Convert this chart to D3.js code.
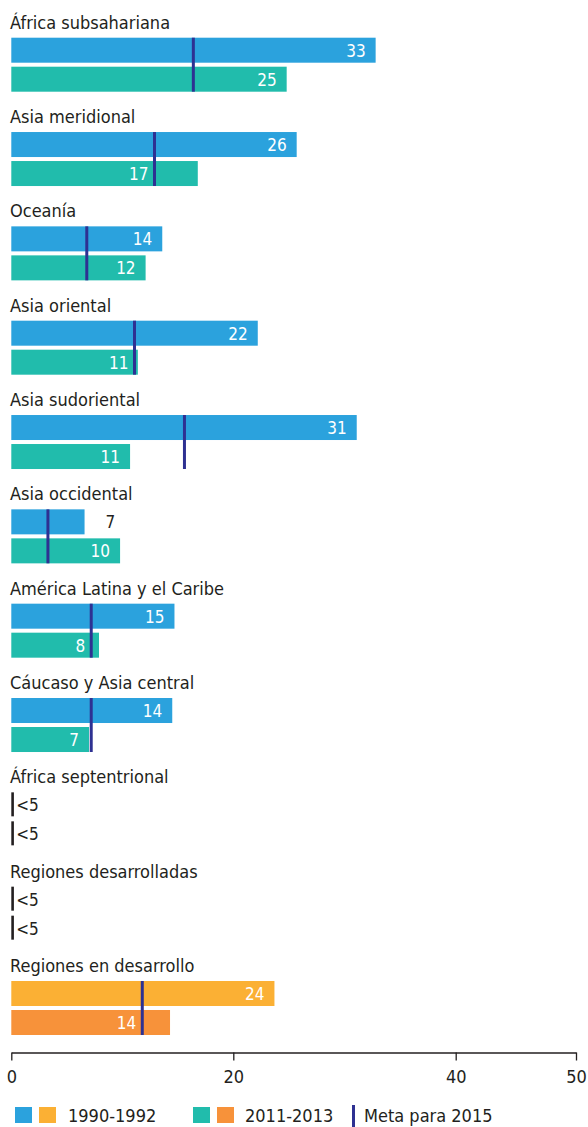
<!DOCTYPE html>
<html>
<head>
<meta charset="utf-8">
<script src="https://cdn.jsdelivr.net/npm/d3@7"></script>
<style>
  html, body { margin: 0; padding: 0; background: #fff; }
  svg { display: block; }
  text { font-family: "DejaVu Sans Condensed", "Liberation Sans Narrow", sans-serif; fill: #231f20; }
</style>
</head>
<body>
<svg id="chart" width="588" height="1127"></svg>
<script>
// ---- data ----
const regions = [
  "África subsahariana", "Asia meridional", "Oceanía", "Asia oriental",
  "Asia sudoriental", "Asia occidental", "América Latina y el Caribe",
  "Cáucaso y Asia central", "África septentrional", "Regiones desarrolladas",
  "Regiones en desarrollo"
];
const values1990 = [32.8, 25.7, 13.6, 22.2, 31.1, 6.6, 14.7, 14.5, null, null, 23.7];
const values2011 = [24.8, 16.8, 12.1, 11.4, 10.7, 9.8, 7.9, 7.0, null, null, 14.3];
const labels1990 = ["33", "26", "14", "22", "31", "7", "15", "14", "<5", "<5", "24"];
const labels2011 = ["25", "17", "12", "11", "11", "10", "8", "7", "<5", "<5", "14"];
const meta2015  = [16.4, 12.9, 6.8, 11.1, 15.6, 3.3, 7.2, 7.2, null, null, 11.8];
const groupKind = ["region","region","region","region","region","region","region","region","region","region","total"];
const tickValues = [0, 20, 40, 50];
const legendLabels = ["1990-1992", "2011-2013", "Meta para 2015"];

// ---- styles ----
const colors = {
  region: ["#2ba2dd", "#21bcac"],
  total:  ["#fbb034", "#f7923a"],
  meta: "#2e3192",
  dark: "#231f20"
};
const fsLabel = 18, fsValue = 17, fsTick = 18, fsLegend = 18;

const svg = d3.select("#chart");

const x = d3.scaleLinear().domain([0, 20, 40, 50]).range([11.3, 233.3, 455.7, 576]);
const y = d3.scaleBand().domain(regions).range([9.7, 9.7 + 94.33 * regions.length]).paddingInner(0).paddingOuter(0);

const barH = 25;
const off1 = 28, off2 = 57;

const rows = regions.map((r, i) => ({
  region: r, i, kind: groupKind[i],
  v: [values1990[i], values2011[i]],
  lab: [labels1990[i], labels2011[i]],
  meta: meta2015[i]
}));

const g = svg.selectAll("g.group").data(rows).join("g")
  .attr("class", "group")
  .attr("transform", d => `translate(0,${y(d.region)})`);

g.append("text")
  .attr("x", 10)
  .attr("y", off1 - 9)
  .attr("font-size", fsLabel)
  .text(d => d.region);

[0, 1].forEach(k => {
  const yo = k === 0 ? off1 : off2;
  // bars
  g.filter(d => d.v[k] != null).append("rect")
    .attr("x", x(0))
    .attr("y", yo)
    .attr("width", d => x(d.v[k]) - x(0))
    .attr("height", barH)
    .attr("fill", d => colors[d.kind][k]);
  // "<5" markers
  g.filter(d => d.v[k] == null).append("rect")
    .attr("x", x(0))
    .attr("y", yo)
    .attr("width", 2.6)
    .attr("height", barH - 1)
    .attr("fill", colors.dark);
  g.filter(d => d.v[k] == null).append("text")
    .attr("x", x(0) + 5)
    .attr("y", yo + 19)
    .attr("font-size", fsValue)
    .text(d => d.lab[k]);
  // value labels
  g.filter(d => d.v[k] != null).append("text")
    .attr("font-size", fsValue)
    .attr("y", yo + 19)
    .each(function(d) {
      const end = x(d.v[k]);
      const sel = d3.select(this);
      if (d.v[k] < 6.8) {
        sel.attr("x", end + 21).attr("text-anchor", "start").style("fill", colors.dark);
      } else {
        let right = end - 10;
        if (d.meta != null) {
          const m = x(d.meta);
          if (m < end && end - m < 45) right = m - 6;
        }
        sel.attr("x", right).attr("text-anchor", "end").style("fill", "#ffffff");
      }
    })
    .text(d => d.lab[k]);
});

// meta lines
g.filter(d => d.meta != null).append("line")
  .attr("x1", d => x(d.meta)).attr("x2", d => x(d.meta))
  .attr("y1", off1).attr("y2", off2 + barH)
  .attr("stroke", colors.meta)
  .attr("stroke-width", 3);

// axis
const axisG = svg.append("g")
  .attr("transform", "translate(0,1052.5)")
  .call(d3.axisBottom(x).tickValues(tickValues).tickSize(8).tickSizeOuter(0).tickPadding(10).tickFormat(d3.format("d")));
axisG.select(".domain").attr("stroke", colors.dark).attr("stroke-width", 1.3);
axisG.selectAll(".tick line").attr("stroke", colors.dark).attr("stroke-width", 1.3);
axisG.selectAll(".tick text").attr("font-size", fsTick).attr("font-family", null).style("fill", colors.dark);

// legend
const lg = svg.append("g").attr("class", "legend");
const sq = [
  { x: 15, c: colors.region[0] }, { x: 39, c: colors.total[0] },
  { x: 193, c: colors.region[1] }, { x: 217, c: colors.total[1] }
];
lg.selectAll("rect").data(sq).join("rect")
  .attr("x", d => d.x).attr("y", 1107).attr("width", 17).attr("height", 16)
  .attr("fill", d => d.c);
lg.append("line").attr("x1", 353.5).attr("x2", 353.5).attr("y1", 1105).attr("y2", 1127)
  .attr("stroke", colors.meta).attr("stroke-width", 3);
lg.selectAll("text").data([
  { x: 68, t: legendLabels[0] }, { x: 245, t: legendLabels[1] }, { x: 364, t: legendLabels[2] }
]).join("text")
  .attr("x", d => d.x).attr("y", 1122).attr("font-size", fsLegend)
  .text(d => d.t);
</script>
</body>
</html>
